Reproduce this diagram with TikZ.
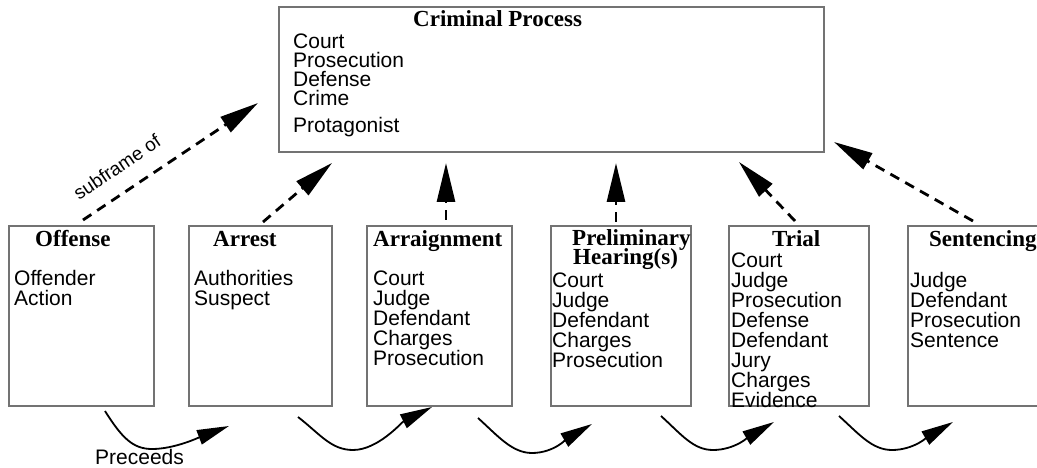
\documentclass[tikz,border=0pt]{standalone}
\usepackage{fontspec}
\setmainfont{Liberation Serif}
\setsansfont{Liberation Sans}
\usetikzlibrary{arrows.meta}

\tikzset{
    frame/.style={draw=black!55, line width=1.2pt, inner sep=0pt},
    heading/.style={font=\bfseries\fontsize{23}{20}\selectfont, anchor=base west, inner sep=0pt},
    item/.style={font=\sffamily\fontsize{21}{20}\selectfont, anchor=base west, inner sep=0pt},
    subframe/.style={-{Triangle[length=39pt,width=18pt]}, line width=2.8pt, dash pattern=on 10pt off 7pt},
    precede/.style={-{Triangle[length=32pt,width=15pt]}, line width=1.8pt},
}

\begin{document}
\begin{tikzpicture}[x=1pt, y=-1pt]
    \useasboundingbox (0,0) rectangle (1037,468);

    % Frame boxes
    \node[frame, minimum width=545pt, minimum height=145pt] (process) at (551.5,79.5) {};
    \node[frame, minimum width=145pt, minimum height=180pt] (offense) at (81.5,316) {};
    \node[frame, minimum width=143pt, minimum height=180pt] (arrest) at (260.5,316) {};
    \node[frame, minimum width=145pt, minimum height=180pt] (arraign) at (439.5,316) {};
    \node[frame, minimum width=140pt, minimum height=180pt] (prelim) at (621,316) {};
    \node[frame, minimum width=140pt, minimum height=180pt] (trial) at (799,316) {};
    \node[frame, minimum width=143pt, minimum height=180pt] (sentence) at (979.5,316) {};

    % Criminal process
    \node[heading] (process-title) at (413,27) {Criminal Process};
    \node[item] (process-0) at (293,49) {Court};
    \node[item] (process-1) at (293,68) {Prosecution};
    \node[item] (process-2) at (293,87) {Defense};
    \node[item] (process-3) at (293,106) {Crime};
    \node[item] (process-4) at (293,133) {Protagonist};

    % Subframes
    \node[heading] (offense-title) at (35,247) {Offense};
    \node[item] (offense-0) at (14,285) {Offender};
    \node[item] (offense-1) at (14,305) {Action};

    \node[heading] (arrest-title) at (213,247) {Arrest};
    \node[item] (arrest-0) at (194,285) {Authorities};
    \node[item] (arrest-1) at (194,305) {Suspect};

    \node[heading] (arraign-title) at (373,247) {Arraignment};
    \foreach \t [count=\i from 0] in {Court,Judge,Defendant,Charges,Prosecution}
        \node[item] (arraign-\i) at (373,{285+20*\i}) {\t};

    \node[heading] (prelim-title) at (572,245) {Preliminary};
    \node[heading] (prelim-title2) at (573,265) {Hearing(s)};
    \foreach \t [count=\i from 0] in {Court,Judge,Defendant,Charges,Prosecution}
        \node[item] (prelim-\i) at (552,{287+20*\i}) {\t};

    \node[heading] (trial-title) at (772,247) {Trial};
    \foreach \t [count=\i from 0] in {Court,Judge,Prosecution,Defense,Defendant,Jury,Charges,Evidence}
        \node[item] (trial-\i) at (731,{267+20*\i}) {\t};

    \node[heading] (sentence-title) at (929,247) {Sentencing};
    \foreach \t [count=\i from 0] in {Judge,Defendant,Prosecution,Sentence}
        \node[item] (sentence-\i) at (910,{287+20*\i}) {\t};

    % Ends of the subframe arrows
    \coordinate (offense-up) at (83,220);
    \coordinate (arrest-up) at (263,222);
    \coordinate (arraign-up) at (446,220);
    \coordinate (prelim-up) at (616,222);
    \coordinate (trial-up) at (795,221);
    \coordinate (sentence-up) at (973,221);
    \coordinate (process-in1) at (258,103);
    \coordinate (process-in2) at (332,163);
    \coordinate (process-in3) at (446,163);
    \coordinate (process-in4) at (616,163);
    \coordinate (process-in5) at (739,162);
    \coordinate (process-in6) at (834,142);

    \draw[subframe] (offense-up) -- (process-in1);
    \draw[subframe] (arrest-up) -- (process-in2);
    \draw[subframe] (arraign-up) -- (process-in3);
    \draw[subframe] (prelim-up) -- (process-in4);
    \draw[subframe] (trial-up) -- (process-in5);
    \draw[subframe] (sentence-up) -- (process-in6);

    \node[font=\sffamily\fontsize{19}{19}\selectfont, rotate=34] (subframe-label) at (117,167) {subframe of};

    % Precedes arrows
    \coordinate (pre1-s) at (105,411); \coordinate (pre1-b) at (152,449); \coordinate (pre1-e) at (229,426);
    \coordinate (pre2-s) at (298,417); \coordinate (pre2-b) at (353,450); \coordinate (pre2-e) at (432,407);
    \coordinate (pre3-s) at (478,418); \coordinate (pre3-b) at (532,453); \coordinate (pre3-e) at (592,424);
    \coordinate (pre4-s) at (661,416); \coordinate (pre4-b) at (713,450); \coordinate (pre4-e) at (774,422);
    \coordinate (pre5-s) at (839,416); \coordinate (pre5-b) at (892,450); \coordinate (pre5-e) at (953,422);

    \draw[precede] (pre1-s) .. controls +(17,27) and +(-19,0) .. (pre1-b)
        .. controls +(23,0) and +(-29,11) .. (pre1-e);
    \draw[precede] (pre2-s) .. controls +(22,17) and +(-22,0) .. (pre2-b)
        .. controls +(25,0) and +(-30,15) .. (pre2-e);
    \draw[precede] (pre3-s) .. controls +(20,18) and +(-20,0) .. (pre3-b)
        .. controls +(22,0) and +(-24,14) .. (pre3-e);
    \draw[precede] (pre4-s) .. controls +(20,18) and +(-20,0) .. (pre4-b)
        .. controls +(22,0) and +(-24,14) .. (pre4-e);
    \draw[precede] (pre5-s) .. controls +(20,18) and +(-20,0) .. (pre5-b)
        .. controls +(22,0) and +(-24,14) .. (pre5-e);

    \node[item] (precede-label) at (95,464) {Preceeds};
\end{tikzpicture}
\end{document}
